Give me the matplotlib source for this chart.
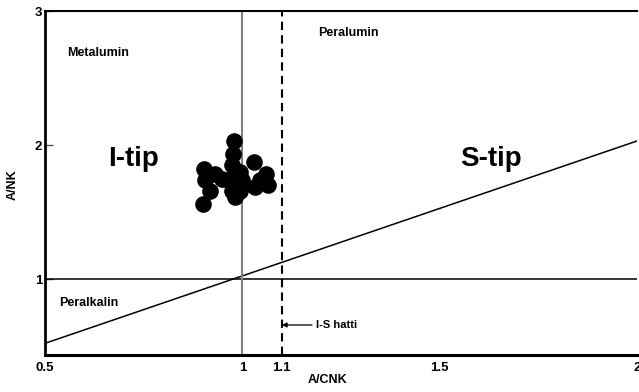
import numpy as np
import matplotlib.pyplot as plt

plt.rcParams["font.family"] = ["Liberation Sans", "DejaVu Sans"]
plt.rcParams["font.weight"] = "bold"

# A/CNK and A/NK of the samples
acnk = [0.900, 0.903, 0.905, 0.918, 0.930, 0.948, 0.963, 0.973, 0.976, 0.978, 0.984,
        0.989, 0.981, 0.994, 0.994, 1.029, 1.032, 1.044, 1.059, 1.065, 0.973, 0.999]
ank = [1.56, 1.82, 1.74, 1.66, 1.78, 1.75, 1.74, 1.85, 1.93, 2.03, 1.78,
       1.70, 1.61, 1.66, 1.80, 1.87, 1.69, 1.74, 1.78, 1.70, 1.66, 1.74]

# boundary lines
diag_x = [0.5, 2.0]
diag_y = [0.52, 2.03]
is_line = 1.1

x_ticks = [0.5, 1, 1.1, 1.5, 2]
x_labels = ["0.5", "1", "1.1", "1.5", "2"]
y_ticks = [1, 2, 3]

fig = plt.figure(figsize=(6.39, 3.92), dpi=100)
ax = fig.add_axes([45 / 639, 37 / 392, 592 / 639, 344 / 392])

ax.plot(diag_x, diag_y, color="black", linewidth=1.1)
ax.axhline(1, color="black", linewidth=1.1)
ax.axvline(1, color="#808080", linewidth=1.5)
ax.axvline(is_line, color="black", linewidth=1.5, linestyle=(0, (4, 2.5)))

ax.scatter(acnk, ank, s=120, color="black", zorder=5)

ax.text(0.556, 2.687, "Metalumin", fontsize=9, ha="left", va="center")
ax.text(1.191, 2.836, "Peralumin", fontsize=9, ha="left", va="center")
ax.text(0.535, 0.821, "Peralkalin", fontsize=9, ha="left", va="center")
ax.text(0.659, 1.84, "I-tip", fontsize=20, ha="left", va="baseline")
ax.text(1.551, 1.84, "S-tip", fontsize=20, ha="left", va="baseline")
ax.annotate("I-S hatti", xy=(is_line, 0.657), xytext=(1.187, 0.657),
            fontsize=8, ha="left", va="center",
            arrowprops=dict(arrowstyle="-|>", color="black", lw=0.9,
                            mutation_scale=7, shrinkA=1, shrinkB=0))

ax.set_xlim(0.5, 2.0)
ax.set_ylim(0.433, 3)
ax.set_xticks(x_ticks)
ax.set_xticklabels(x_labels)
ax.set_yticks(y_ticks)
ax.tick_params(axis="x", length=0, pad=5, labelsize=9.5)
ax.tick_params(axis="y", direction="in", length=6, width=1, pad=2, labelsize=9.5,
               color="#555555")

ax.set_xlabel("A/CNK", fontsize=9, fontweight="bold")
ax.xaxis.set_label_coords((328 - 45) / 592, -0.055)
ax.set_ylabel("A/NK", fontsize=9, fontweight="bold")
ax.yaxis.set_label_coords(-0.045, (392 - 185 - 37) / 344)

ax.spines["right"].set_visible(False)
ax.spines["left"].set_linewidth(2)
ax.spines["bottom"].set_linewidth(2.2)
ax.spines["top"].set_linewidth(1.5)

fig.savefig("out.png", dpi=100)
